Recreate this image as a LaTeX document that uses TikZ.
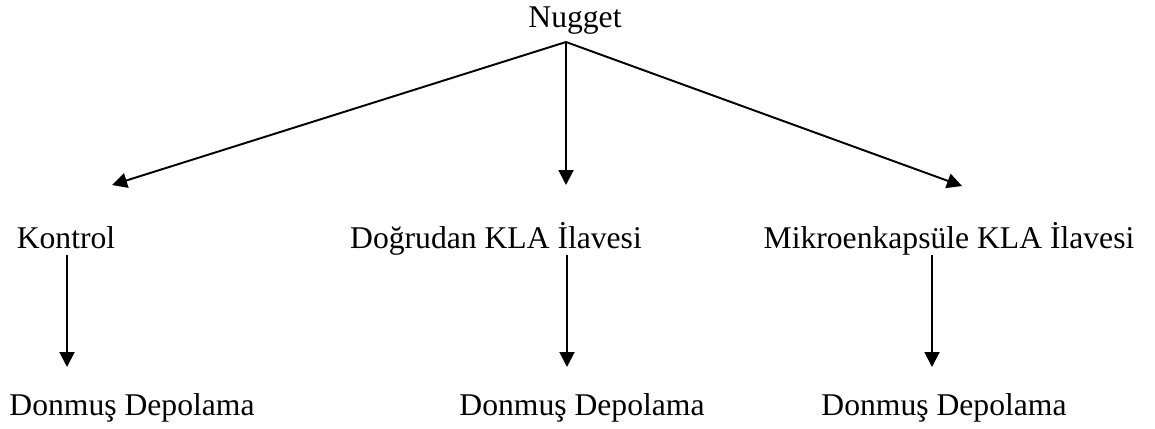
\documentclass[tikz,border=0pt]{standalone}
\usepackage{fontspec}
\setmainfont{Liberation Serif}
\usetikzlibrary{arrows.meta}

\begin{document}
\begin{tikzpicture}[
    txt/.style={inner sep=0pt, anchor=base, font=\fontsize{18}{21.6}\selectfont},
    arrow/.style={-{Triangle[length=0.3cm, width=0.3cm]}, line width=1.1pt}
]
\useasboundingbox (0,0) rectangle (23.1,8.56);

% Root
\node[txt] (nugget) at (11.5, 8.02) {Nugget};

% Treatments
\node[txt] (kontrol) at (1.32, 3.6) {Kontrol};
\node[txt] (dogrudan) at (9.92, 3.6) {Doğrudan KLA İlavesi};
\node[txt] (mikro) at (18.98, 3.6) {Mikroenkapsüle KLA İlavesi};

% Storage
\node[txt] (depoA) at (2.64, 0.26) {Donmuş Depolama};
\node[txt] (depoB) at (11.64, 0.26) {Donmuş Depolama};
\node[txt] (depoC) at (18.88, 0.26) {Donmuş Depolama};

% Connection points
\coordinate (split) at (11.32, 7.72);
\coordinate (kontrolIn) at (2.24, 4.86);
\coordinate (dogrudanIn) at (11.32, 4.86);
\coordinate (mikroIn) at (19.24, 4.84);
\coordinate (kontrolOut) at (1.34, 3.46);
\coordinate (dogrudanOut) at (11.34, 3.46);
\coordinate (mikroOut) at (18.64, 3.46);
\coordinate (depoAIn) at (1.34, 1.22);
\coordinate (depoBIn) at (11.34, 1.22);
\coordinate (depoCIn) at (18.64, 1.22);

% Connections
\draw[arrow] (split) -- (kontrolIn);
\draw[arrow] (split) -- (dogrudanIn);
\draw[arrow] (split) -- (mikroIn);
\draw[arrow] (kontrolOut) -- (depoAIn);
\draw[arrow] (dogrudanOut) -- (depoBIn);
\draw[arrow] (mikroOut) -- (depoCIn);

\end{tikzpicture}
\end{document}
